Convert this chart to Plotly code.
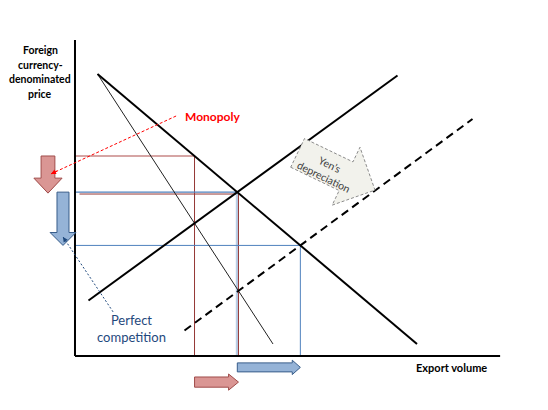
import numpy as np
import plotly.graph_objects as go

# schematic units (1 unit = 30 px), origin at the corner of the axes
demand_x = [0.75, 11.4]
demand_y = [9.4, 0.4]
mr_x = [0.75, 6.6]
mr_y = [9.4, 0.4]
supply_x = [0.45, 10.75]
supply_y = [1.85, 9.35]
supply2_x = [3.65, 13.25]
supply2_y = [0.85, 7.9]

axis_x_end = 14.17
axis_y_end = 10.53

ytitle_lines = ["Foreign", "currency-", "denominated", "price"]
xtitle = "Export volume"

RED = "#953735"
BLUE = "#4f81bd"
NAVY = "#1f497d"
FONT = "Lato"


def coef(xs, ys):
    m = (ys[1] - ys[0]) / (xs[1] - xs[0])
    return m, ys[0] - m * xs[0]


def cross(a, b):
    x = (b[1] - a[1]) / (a[0] - b[0])
    return x, a[0] * x + a[1]


D = coef(demand_x, demand_y)
MR = coef(mr_x, mr_y)
S1 = coef(supply_x, supply_y)
S2 = coef(supply2_x, supply2_y)

qc1, pc1 = cross(D, S1)
qc2, pc2 = cross(D, S2)
qm1 = cross(MR, S1)[0]
pm1 = D[0] * qm1 + D[1]
qm2 = cross(MR, S2)[0]
pm2 = D[0] * qm2 + D[1]


def block_arrow(x0, y0, x1, y1, w, hw, hl):
    dx, dy = x1 - x0, y1 - y0
    L = np.hypot(dx, dy)
    ux, uy = dx / L, dy / L
    nx, ny = -uy, ux
    loc = [(0, -w), (L - hl, -w), (L - hl, -hw), (L, 0), (L - hl, hw), (L - hl, w), (0, w)]
    pts = [(x0 + u * ux + v * nx, y0 + u * uy + v * ny) for u, v in loc]
    return "M " + " L ".join(f"{x:.3f},{y:.3f}" for x, y in pts) + " Z"


fig = go.Figure()


def seg(xs, ys, color, width, dash="solid"):
    fig.add_trace(go.Scatter(x=xs, y=ys, mode="lines", hoverinfo="skip", showlegend=False,
                             line=dict(color=color, width=width, dash=dash)))


# guide lines
seg([0, qm1], [pm1, pm1], "#d6a5a4", 2)
seg([qm1, qm1], [pm1, 0], RED, 1)
seg([0.15, qm2], [pm2 - 0.03, pm2 - 0.03], RED, 1)
seg([0, qc1], [pc1, pc1], BLUE, 1.2)
seg([qc1, qc1], [pc1, 0], "#b9cde5", 3)
seg([qm2, qm2], [pm2, 0], RED, 1)
seg([0, qc2], [pc2, pc2], BLUE, 1)
seg([qc2, qc2], [pc2, 0], BLUE, 1)

# curves
seg(mr_x, mr_y, "#222222", 1)
seg(demand_x, demand_y, "black", 2)
seg(supply_x, supply_y, "black", 2)
seg(supply2_x, supply2_y, "black", 2, "8px,5px")

# axes
seg([0, 0], [axis_y_end, 0], "black", 2)
seg([0, axis_x_end], [0, 0], "black", 2)

shapes = [
    dict(type="path", path=block_arrow(-0.9, pm1, -0.9, pm2, 0.23, 0.47, 0.5),
         fillcolor="#da9694", line=dict(color="#a04c4a", width=1)),
    dict(type="path", path=block_arrow(-0.4, pc1, -0.4, pc2, 0.2, 0.43, 0.43),
         fillcolor="#95b3d7", line=dict(color="#385d8a", width=1)),
    dict(type="path", path=block_arrow(qm1, -0.87, qm2, -0.87, 0.17, 0.27, 0.33),
         fillcolor="#da9694", line=dict(color="#a04c4a", width=1)),
    dict(type="path", path=block_arrow(qc1, -0.38, qc2, -0.38, 0.15, 0.24, 0.27),
         fillcolor="#95b3d7", line=dict(color="#385d8a", width=1)),
    dict(type="path", path=block_arrow(7.42, 6.77, 10.0, 5.53, 0.53, 1.07, 1.07),
         fillcolor="#f2f2ec", line=dict(color="#8c8c8c", width=1, dash="3px,2px")),
    dict(type="line", x0=3.37, y0=8.0, x1=-0.8, y1=6.07,
         line=dict(color="#ff0000", width=1, dash="3px,2px")),
    dict(type="line", x0=1.27, y0=1.47, x1=-0.4, y1=3.97,
         line=dict(color=NAVY, width=1, dash="2px,2px")),
]

annotations = [
    dict(x=-0.8, y=6.07, ax=-0.55, ay=6.19, axref="x", ayref="y", text="", showarrow=True,
         arrowhead=2, arrowsize=1, arrowwidth=1, arrowcolor="#ff0000"),
    dict(x=-0.4, y=3.97, ax=-0.3, ay=3.82, axref="x", ayref="y", text="", showarrow=True,
         arrowhead=2, arrowsize=1, arrowwidth=1, arrowcolor=NAVY),
    dict(x=3.6, y=7.97, text="<b>Monopoly</b>", showarrow=False, xanchor="left",
         font=dict(family=FONT, size=12, color="#ff0000")),
    dict(x=1.9, y=0.93, text="Perfect<br>competition", showarrow=False,
         font=dict(family=FONT, size=13, color=NAVY)),
    dict(x=8.4, y=6.17, text="Yen’s<br>depreciation", showarrow=False, textangle=26,
         font=dict(family=FONT, size=10.5, color="#404040")),
    dict(x=12.56, y=-0.4, text=f"<b>{xtitle}</b>", showarrow=False,
         font=dict(family=FONT, size=11, color="black")),
]
for i, t in enumerate(ytitle_lines):
    annotations.append(dict(x=-1.15, y=10.2 - i * 0.49, text=f"<b>{t}</b>", showarrow=False,
                            font=dict(family=FONT, size=10.5, color="black")))

# the page body adds an 8 px offset, so the ranges start 8 px further in
fig.update_layout(
    width=548, height=410, autosize=False,
    margin=dict(l=0, r=0, t=0, b=0),
    paper_bgcolor="white", plot_bgcolor="white",
    xaxis=dict(range=[-2.233, 16.033], visible=False, fixedrange=True),
    yaxis=dict(range=[-2.067, 11.6], visible=False, fixedrange=True),
    shapes=shapes, annotations=annotations,
)

fig.write_html("out.html")
